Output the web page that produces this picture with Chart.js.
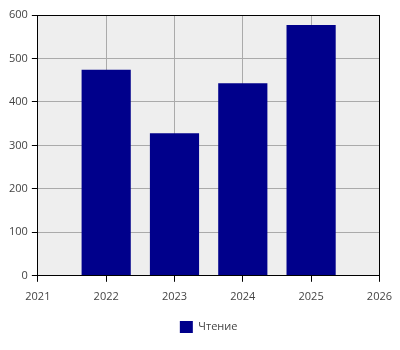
<!DOCTYPE html>
<html>
<head>
<meta charset="utf-8">
<script src="https://cdn.jsdelivr.net/npm/chart.js@4"></script>
<style>
  html, body { margin: 0; padding: 0; background: #ffffff; }
  #chart { display: block; }
</style>
</head>
<body>
<canvas id="chart" width="400" height="350"></canvas>
<script>
// Chart data
const years = [2022, 2023, 2024, 2025];
const readingValues = [474, 328, 443, 577];
const seriesLabel = 'Чтение';
const xMin = 2021;
const xMax = 2026;
const yMax = 600;

// same rounding Chart.js uses for 1px lines
const align = p => Math.round(p - 0.5) + 0.5;

// Grey plot area with a black frame round it
const plotFrame = {
  id: 'plotFrame',
  beforeDraw(chart) {
    const { ctx, chartArea: a } = chart;
    ctx.save();
    ctx.fillStyle = '#eeeeee';
    ctx.fillRect(a.left, a.top, a.right - a.left, a.bottom - a.top);
    ctx.restore();
  },
  afterDraw(chart) {
    const { ctx, chartArea: a } = chart;
    const l = align(a.left), r = align(a.right);
    const t = align(a.top), b = align(a.bottom);
    ctx.save();
    ctx.strokeStyle = '#000000';
    ctx.lineWidth = 1;
    ctx.strokeRect(l, t, r - l, b - t);
    ctx.restore();
  }
};

Chart.defaults.font.family = '"Open Sans", "Noto Sans", sans-serif';
Chart.defaults.font.size = 11;
Chart.defaults.color = '#444444';

new Chart(document.getElementById('chart'), {
  type: 'bar',
  data: {
    datasets: [{
      label: seriesLabel,
      data: years.map((y, i) => ({ x: y, y: readingValues[i] })),
      backgroundColor: '#00008b',
      borderWidth: 0
    }]
  },
  options: {
    responsive: false,
    animation: false,
    layout: {
      padding: { top: 15, right: 14, left: 5, bottom: 7 }
    },
    plugins: {
      legend: {
        position: 'bottom',
        fullSize: false,
        labels: {
          boxWidth: 13,
          boxHeight: 12,
          padding: 10
        }
      },
      tooltip: { enabled: false }
    },
    scales: {
      x: {
        type: 'linear',
        min: xMin,
        max: xMax,
        offset: false,
        grid: {
          offset: false,
          color: '#aaaaaa',
          tickColor: '#000000',
          tickLength: 6
        },
        border: { color: '#000000' },
        ticks: {
          stepSize: 1,
          padding: 8,
          callback: v => String(v)
        }
      },
      y: {
        min: 0,
        max: yMax,
        grid: {
          color: '#aaaaaa',
          tickColor: '#000000',
          tickLength: 6
        },
        border: { color: '#000000' },
        ticks: {
          stepSize: 100,
          padding: 4
        }
      }
    }
  },
  plugins: [plotFrame]
});
</script>
</body>
</html>
